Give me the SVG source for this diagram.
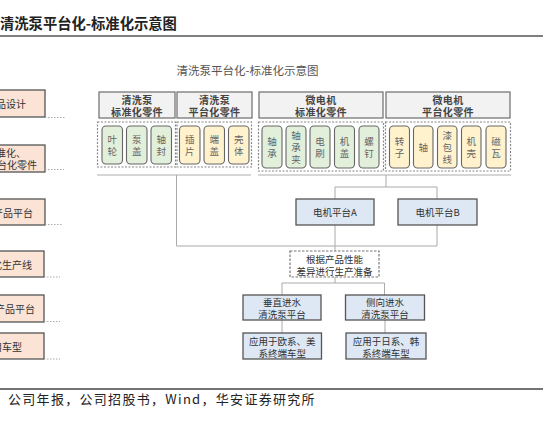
<svg xmlns="http://www.w3.org/2000/svg" width="543" height="421" viewBox="0 0 543 421">
<style>
text{font-family:"Noto Sans CJK SC","Liberation Sans",sans-serif;dominant-baseline:central;fill:#333}
.lbl rect{fill:#fbe4d6;stroke:#555;stroke-width:1.3}
.lbl text{font-size:10px;text-anchor:end}
.dot{stroke:#aaa;stroke-width:1;stroke-dasharray:1.5 1.5;fill:none}
.hdr rect{fill:#f2f2f2;stroke:#777;stroke-width:1.3}
.hdr text{font-size:10px;font-weight:bold;text-anchor:middle;fill:#444;letter-spacing:0.4px}
.grp{fill:none;stroke:#888;stroke-width:1.2;stroke-dasharray:2 1.5}
.pg{fill:#e2efda;stroke:#666;stroke-width:1.1}
.py{fill:#fff2cc;stroke:#666;stroke-width:1.1}
.pill text{font-size:9.5px;text-anchor:middle;fill:#666}
.bl rect{fill:#dde8f4;stroke:#555;stroke-width:1.3}
.bl text{font-size:9.5px;text-anchor:middle}
.conn line,.conn polyline{stroke:#aaa;stroke-width:1;fill:none}
</style>
<text x="0" y="22.5" style="font-size:14.3px;font-weight:bold;fill:#222">清洗泵平台化-标准化示意图</text>
<line x1="0" y1="36" x2="543" y2="36" stroke="#555" stroke-width="1.5"/>
<text x="247.5" y="70" style="font-size:11.5px;text-anchor:middle;fill:#555">清洗泵平台化-标准化示意图</text>

<g id="labels">
<g id="lbl1" class="lbl"><rect x="-40" y="90" width="85" height="27"/><text x="26" y="103.5">产品设计</text><line class="dot" x1="45" y1="117.5" x2="66" y2="117.5"/></g>
<g id="lbl2" class="lbl"><rect x="-40" y="145" width="85" height="27"/><text x="26" y="152">标准化、</text><text x="37" y="164.5">平台化零件</text><line class="dot" x1="45" y1="169.5" x2="64" y2="169.5"/></g>
<g id="lbl3" class="lbl"><rect x="-40" y="199" width="85" height="26"/><text x="33" y="212.5">产品平台</text><line class="dot" x1="45" y1="224.5" x2="63" y2="224.5"/></g>
<g id="lbl4" class="lbl"><rect x="-40" y="251" width="84" height="26"/><text x="32" y="264.5">化生产线</text><line class="dot" x1="44" y1="277" x2="60" y2="277"/></g>
<g id="lbl5" class="lbl"><rect x="-40" y="295" width="84" height="27"/><text x="35" y="308.5">产品平台</text><line class="dot" x1="44" y1="321.5" x2="60" y2="321.5"/></g>
<g id="lbl6" class="lbl"><rect x="-40" y="333" width="84" height="26"/><text x="22" y="346.5">适用车型</text><line class="dot" x1="44" y1="359" x2="60" y2="359"/></g>
</g>

<g id="hdr1" class="hdr"><rect x="99" y="92" width="76" height="26"/><text x="137" y="99.3">清洗泵</text><text x="137" y="111.2">标准化零件</text></g>
<g id="hdr2" class="hdr"><rect x="177" y="92" width="75" height="26"/><text x="214.5" y="99.3">清洗泵</text><text x="214.5" y="111.2">平台化零件</text></g>
<g id="hdr3" class="hdr"><rect x="259" y="92" width="124" height="26"/><text x="321" y="99.3">微电机</text><text x="321" y="111.2">标准化零件</text></g>
<g id="hdr4" class="hdr"><rect x="386" y="92" width="124" height="26"/><text x="448" y="99.3">微电机</text><text x="448" y="111.2">平台化零件</text></g>

<g id="grp1"><rect class="grp" x="97.5" y="122" width="78" height="45"/>
<g class="pill"><rect class="pg" x="102" y="126" width="20.5" height="38" rx="4"/><text x="112.2" y="139">叶</text><text x="112.2" y="151">轮</text></g>
<g class="pill"><rect class="pg" x="126.5" y="126" width="20.5" height="38" rx="4"/><text x="136.7" y="139">泵</text><text x="136.7" y="151">盖</text></g>
<g class="pill"><rect class="pg" x="151" y="126" width="20.5" height="38" rx="4"/><text x="161.2" y="139">轴</text><text x="161.2" y="151">封</text></g>
</g>
<g id="grp2"><rect class="grp" x="177" y="122" width="74.5" height="45"/>
<g class="pill"><rect class="py" x="179.5" y="126" width="20.5" height="38" rx="4"/><text x="189.7" y="139">插</text><text x="189.7" y="151">片</text></g>
<g class="pill"><rect class="py" x="204" y="126" width="20.5" height="38" rx="4"/><text x="214.2" y="139">端</text><text x="214.2" y="151">盖</text></g>
<g class="pill"><rect class="py" x="228.5" y="126" width="20.5" height="38" rx="4"/><text x="238.7" y="139">壳</text><text x="238.7" y="151">体</text></g>
</g>
<g id="grp3"><rect class="grp" x="258.5" y="122" width="125" height="49"/>
<g class="pill"><rect class="pg" x="262" y="126" width="20" height="42" rx="4"/><text x="272" y="141">轴</text><text x="272" y="153">承</text></g>
<g class="pill"><rect class="pg" x="286" y="126" width="20" height="42" rx="4"/><text x="296" y="135">轴</text><text x="296" y="147">承</text><text x="296" y="159">夹</text></g>
<g class="pill"><rect class="pg" x="310" y="126" width="20" height="42" rx="4"/><text x="320" y="141">电</text><text x="320" y="153">刷</text></g>
<g class="pill"><rect class="pg" x="334.5" y="126" width="20" height="42" rx="4"/><text x="344.5" y="141">机</text><text x="344.5" y="153">盖</text></g>
<g class="pill"><rect class="pg" x="359" y="126" width="20" height="42" rx="4"/><text x="369" y="141">螺</text><text x="369" y="153">钉</text></g>
</g>
<g id="grp4"><rect class="grp" x="385.5" y="122" width="125" height="49"/>
<g class="pill"><rect class="py" x="389.5" y="126" width="20" height="42" rx="4"/><text x="399.5" y="141">转</text><text x="399.5" y="153">子</text></g>
<g class="pill"><rect class="py" x="413.5" y="126" width="19.5" height="42" rx="4"/><text x="423.2" y="147">轴</text></g>
<g class="pill"><rect class="py" x="437.5" y="126" width="19.5" height="42" rx="4"/><text x="447.2" y="135">漆</text><text x="447.2" y="147">包</text><text x="447.2" y="159">线</text></g>
<g class="pill"><rect class="py" x="461.5" y="126" width="19.5" height="42" rx="4"/><text x="471.2" y="141">机</text><text x="471.2" y="153">壳</text></g>
<g class="pill"><rect class="py" x="486" y="126" width="20" height="42" rx="4"/><text x="496" y="141">磁</text><text x="496" y="153">瓦</text></g>
</g>

<g id="connectors" class="conn">
<line x1="97" y1="175" x2="251" y2="175" style="stroke:#c8c8c8;stroke-width:1.5"/>
<line x1="258" y1="175" x2="511" y2="175" style="stroke:#c8c8c8;stroke-width:1.5"/>
<polyline points="176.5,175 176.5,246 437,246 437,225"/>
<line x1="386" y1="175" x2="386" y2="187"/>
<polyline points="335,199 335,187 437,187 437,199"/>
<line x1="335" y1="225" x2="335" y2="251"/>
<line x1="335" y1="277" x2="335" y2="283"/>
<polyline points="282,295 282,283 384.5,283 384.5,295"/>
<line x1="282" y1="320" x2="282" y2="333"/>
<line x1="385" y1="320" x2="385" y2="333"/>
</g>

<g id="motorA" class="bl"><rect x="296" y="199" width="78" height="26"/><text x="335" y="212">电机平台A</text></g>
<g id="motorB" class="bl"><rect x="398" y="199" width="79" height="26"/><text x="437.5" y="212">电机平台B</text></g>
<g id="prep"><rect x="290" y="251" width="89" height="26" fill="#fff" stroke="#777" stroke-width="1.2" stroke-dasharray="2.5 1.5"/><text x="334.5" y="259" style="font-size:9.5px;text-anchor:middle">根据产品性能</text><text x="334.5" y="271" style="font-size:9.5px;text-anchor:middle">差异进行生产准备</text></g>
<g id="vertical" class="bl"><rect x="243" y="295" width="78" height="25"/><text x="282" y="302">垂直进水</text><text x="282" y="314">清洗泵平台</text></g>
<g id="lateral" class="bl"><rect x="345.5" y="295" width="79" height="25"/><text x="385" y="302">侧向进水</text><text x="385" y="314">清洗泵平台</text></g>
<g id="euus" class="bl"><rect x="243" y="333" width="78.5" height="26"/><text x="282.2" y="341">应用于欧系、美</text><text x="282.2" y="353">系终端车型</text></g>
<g id="jpkr" class="bl"><rect x="346" y="333" width="80" height="26"/><text x="386" y="341">应用于日系、韩</text><text x="386" y="353">系终端车型</text></g>

<line x1="0" y1="389" x2="543" y2="389" stroke="#444" stroke-width="1.5"/>
<text x="8" y="398" style="font-size:13px;letter-spacing:1.3px;fill:#222">公司年报，公司招股书，Wind，华安证券研究所</text>
</svg>
